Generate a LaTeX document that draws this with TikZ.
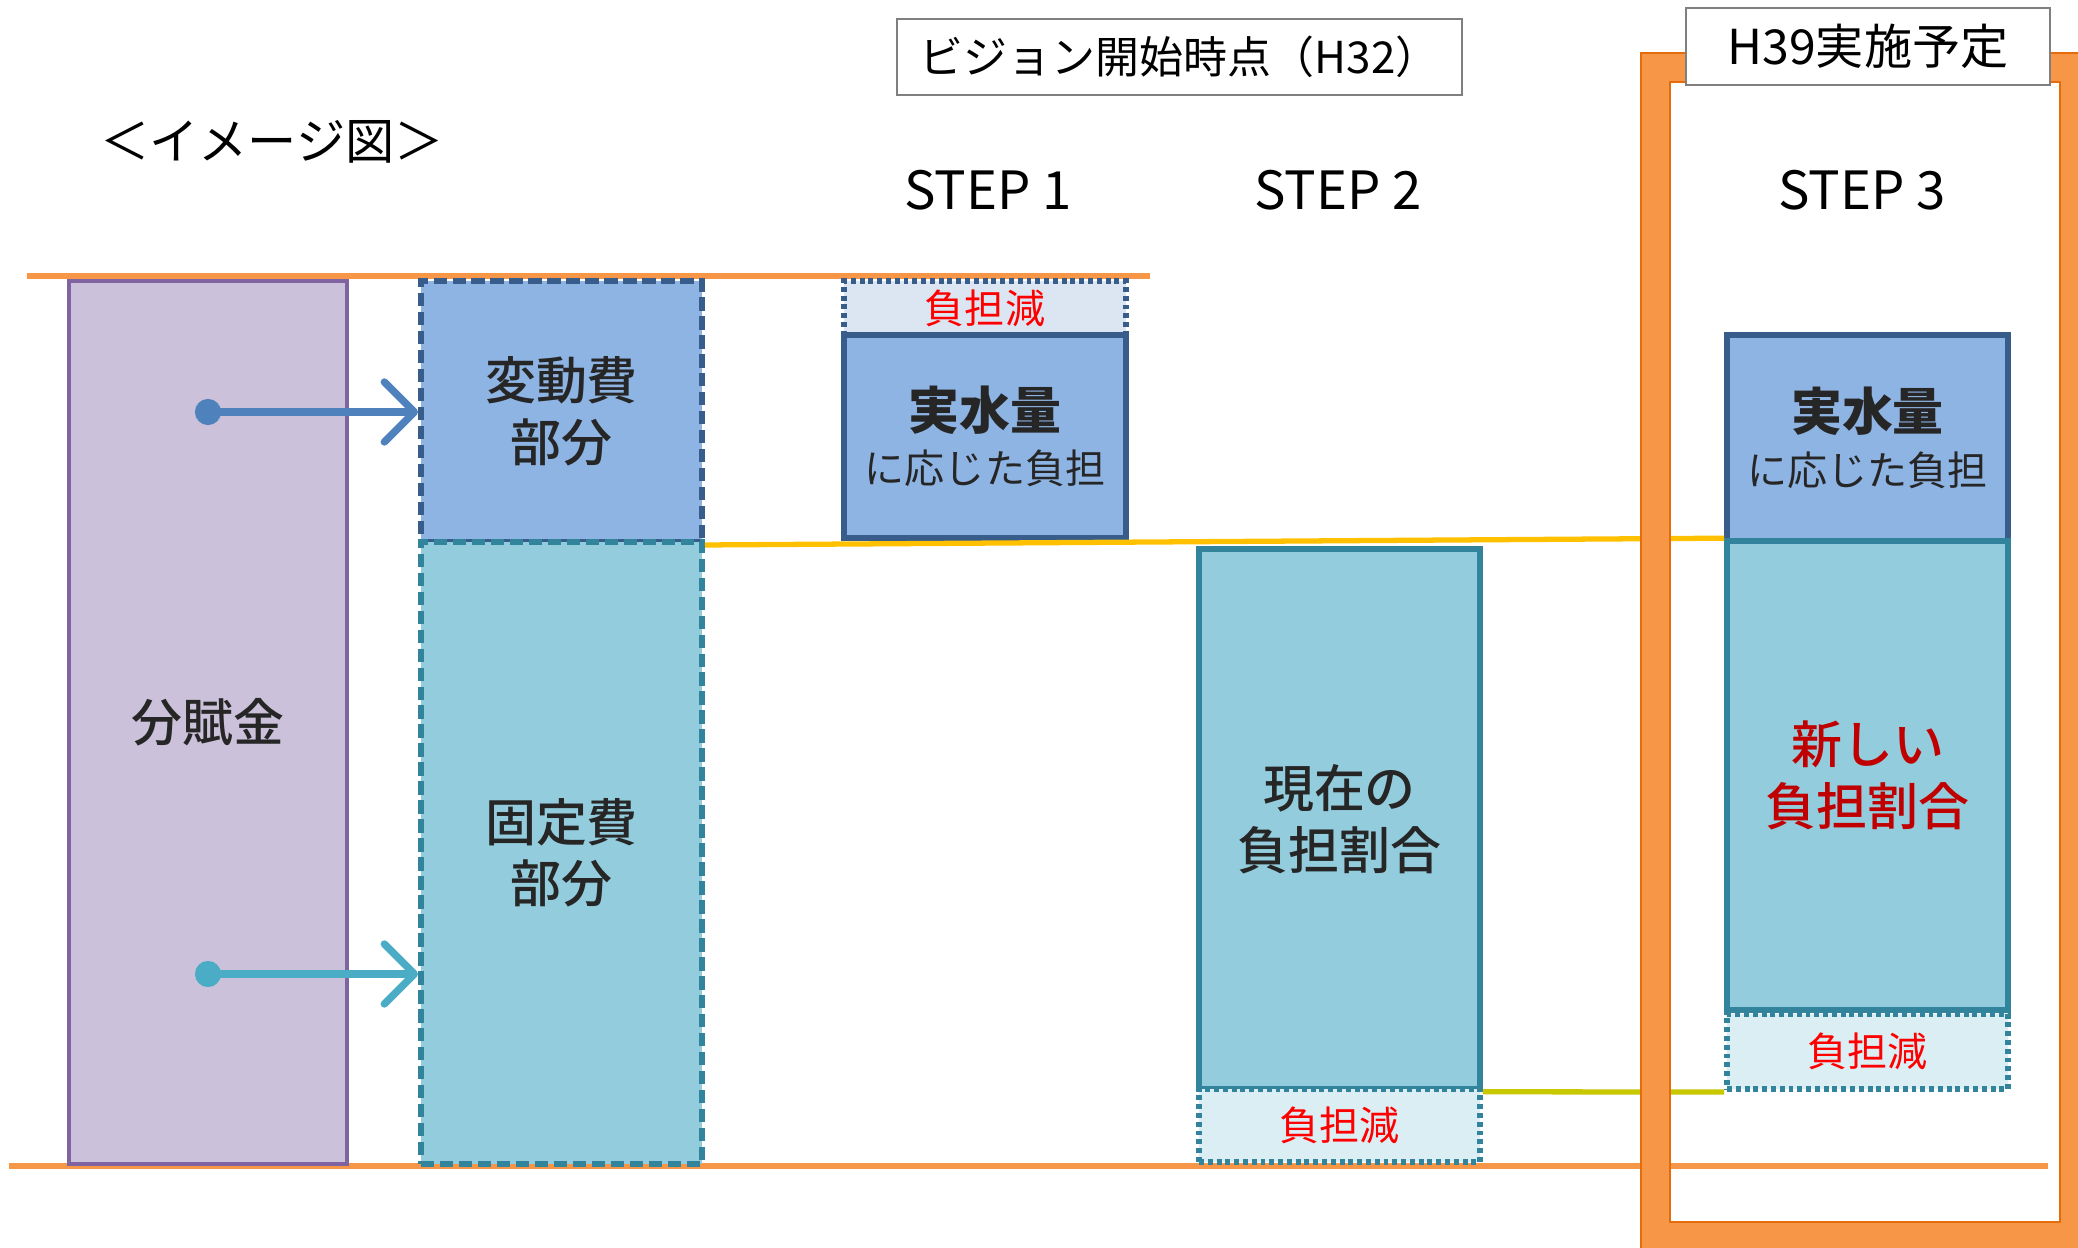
\documentclass[tikz,border=0pt]{standalone}
\usepackage{fontspec}
\setmainfont{Noto Sans CJK JP}
\newfontfamily\boxfont{Noto Sans CJK JP Medium}
\usetikzlibrary{arrows.meta}
\usepackage{xcolor}
\definecolor{fukaFill}{HTML}{CCC1DA}
\definecolor{fukaLine}{HTML}{8064A2}
\definecolor{hendoFill}{HTML}{8EB4E3}
\definecolor{hendoLine}{HTML}{385D8A}
\definecolor{koteiFill}{HTML}{93CDDD}
\definecolor{koteiLine}{HTML}{31849B}
\definecolor{genFillA}{HTML}{DCE6F2}
\definecolor{genFillB}{HTML}{DBEEF4}
\definecolor{orangeLine}{HTML}{F79646}
\definecolor{frameEdge}{HTML}{E46C0A}
\definecolor{yellowLine}{HTML}{FFC000}
\definecolor{oliveLine}{HTML}{C8C800}
\definecolor{arrowA}{HTML}{4F81BD}
\definecolor{arrowB}{HTML}{4BACC6}
\definecolor{labelGray}{HTML}{7F7F7F}
\definecolor{darkText}{HTML}{262626}
\definecolor{newRed}{HTML}{C00000}

\begin{document}
\begin{tikzpicture}[every text node part/.style={align=center},
    col/.style={rectangle,inner sep=0pt,minimum width=2.81cm,text=darkText,
      font=\boxfont\fontsize{14.5}{17.5}\selectfont},
    solidcol/.style={col,line width=1.6pt},
    dashcol/.style={col,line width=1.7pt,dash pattern=on 3.8pt off 1.6pt},
    dotcol/.style={col,line width=1.7pt,dash pattern=on 1.4pt off 1.1pt,
      text=red,font=\rmfamily\fontsize{11.4}{13}\selectfont},
    tag/.style={draw=labelGray,fill=white,line width=0.7pt,rectangle,inner sep=0pt},
    steplabel/.style={font=\fontsize{15}{18}\selectfont},
    feed/.style={line width=2.1pt,{Circle[length=2.6mm]}-{Straight Barb[length=3mm,width=6mm,round]}}]
        \useasboundingbox (0,0) rectangle (20.78,-12.48);

        % headings
        \node[font=\fontsize{14}{16}\selectfont] (title) at (2.72,-1.42) {＜イメージ図＞};
        \node[tag,minimum width=5.65cm,minimum height=0.76cm,font=\fontsize{12.5}{15}\selectfont] (vision) at (11.795,-0.57) {ビジョン開始時点（H32）};
        \node[steplabel] (step1) at (9.88,-1.90) {STEP 1};
        \node[steplabel] (step2) at (13.38,-1.90) {STEP 2};
        \node[steplabel] (step3) at (18.62,-1.90) {STEP 3};

        % reference levels
        \coordinate (topL) at (0.27,-2.76);
        \coordinate (topR) at (11.50,-2.76);
        \coordinate (botL) at (0.09,-11.66);
        \coordinate (botR) at (20.48,-11.66);
        \draw[orangeLine,line width=1.6pt] (topL) -- (topR);
        \draw[orangeLine,line width=1.6pt] (botL) -- (botR);

        % current charge
        \node[col,draw=fukaLine,fill=fukaFill,line width=1.4pt,minimum width=2.78cm,minimum height=8.83cm] (fuka) at (2.08,-7.225) {分賦金};
        \node[dashcol,draw=hendoLine,fill=hendoFill,minimum height=2.61cm] (hendo) at (5.615,-4.115) {変動費\\部分};
        \node[dashcol,draw=koteiLine,fill=koteiFill,minimum height=6.22cm] (kotei) at (5.615,-8.53) {固定費\\部分};

        % step 1
        \node[dotcol,draw=hendoLine,fill=genFillA,minimum width=2.82cm,minimum height=0.54cm] (gen1) at (9.85,-3.08) {負担減};
        \node[solidcol,draw=hendoLine,fill=hendoFill,minimum width=2.82cm,minimum height=2.03cm] (jitsu1) at (9.85,-4.365) {{\bfseries 実水量}\\[-2pt]{\rmfamily\fontsize{11.4}{13}\selectfont に応じた負担}};

        % step 2
        \node[solidcol,draw=koteiLine,fill=koteiFill,minimum height=5.4cm] (genzai) at (13.395,-8.19) {現在の\\負担割合};
        \node[dotcol,draw=koteiLine,fill=genFillB,minimum height=0.73cm] (gen2) at (13.395,-11.255) {負担減};

        % step 3
        \node[solidcol,draw=hendoLine,fill=hendoFill,minimum height=2.06cm] (jitsu3) at (18.675,-4.38) {{\bfseries 実水量}\\[-2pt]{\rmfamily\fontsize{11.4}{13}\selectfont に応じた負担}};
        \node[solidcol,draw=koteiLine,fill=koteiFill,minimum height=4.69cm,text=newRed] (atarashii) at (18.675,-7.755) {新しい\\負担割合};
        \node[dotcol,draw=koteiLine,fill=genFillB,minimum height=0.75cm] (gen3) at (18.675,-10.515) {負担減};

        \draw[yellowLine,line width=1.5pt] (hendo.south east) -- (atarashii.north west);
        \draw[oliveLine,line width=1.5pt] (genzai.south east) -- (gen3.south west);

        % split arrows
        \coordinate (srcA) at (1.95,-4.12);
        \coordinate (srcB) at (1.95,-9.74);
        \draw[feed,arrowA] (srcA) -- (srcA -| hendo.west);
        \draw[feed,arrowB] (srcB) -- (srcB -| kotei.west);

        % H39 frame
        \fill[orangeLine,even odd rule,draw=frameEdge,line width=0.8pt] (16.41,-0.53) rectangle (21.2,-12.8) (16.70,-0.82) rectangle (20.60,-12.22);
        \node[tag,minimum width=3.64cm,minimum height=0.77cm,font=\fontsize{13.7}{16}\selectfont] (plan) at (18.68,-0.465) {H39実施予定};
        \end{tikzpicture}
\end{document}
